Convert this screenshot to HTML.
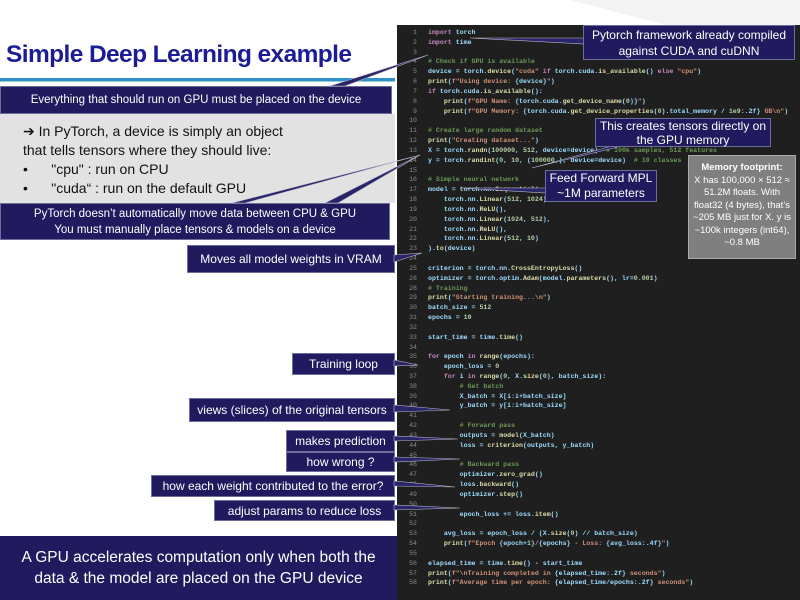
<!DOCTYPE html>
<html><head><meta charset="utf-8"><style>
body{margin:0;width:800px;height:600px;overflow:hidden;background:#fff;font-family:"Liberation Sans",sans-serif;position:relative}
.b{position:absolute;background:#211a5e;color:#fff;font-size:12px;display:flex;align-items:center;justify-content:center;box-sizing:border-box;border:1px solid #6b6f9a;white-space:nowrap}
#code{position:absolute;left:397px;top:25px;width:403px;height:575px;background:#1f1f1f}
pre{margin:0;position:absolute;top:3px;font-family:"Liberation Mono",monospace;font-size:6.6px;line-height:9.83px;color:#9cdcfe;font-weight:bold}
#nums{left:8px;color:#8a8a8a;text-align:right;width:12px;font-weight:normal}
#src{left:31px}
.c{color:#6a9955}.s{color:#ce9178}.k{color:#c586c0}.f{color:#dcdcaa}.n{color:#b5cea8}
</style></head><body>
<svg width="800" height="600" style="position:absolute;left:0;top:0">
<polygon points="570,0 800,0 800,60" fill="#f3f3f3"/>
<rect x="0" y="78" width="395" height="3" fill="#2f8fc8"/>
<rect x="0" y="81" width="395" height="1" fill="#9cc"/>
</svg>
<div style="position:absolute;left:6px;top:41px;font-size:24.5px;font-weight:bold;color:#1c1c96;letter-spacing:-0.6px">Simple Deep Learning example</div>
<div class="b" style="left:0;top:86px;width:392px;height:28px;font-size:11.5px">Everything that should run on GPU must be placed on the device</div>
<div style="position:absolute;left:0;top:114px;width:395px;height:89px;background:#e2e2e2;font-size:14px;color:#111;line-height:19px;padding:8px 0 0 23px;box-sizing:border-box">
<div>➔ In PyTorch, a device is simply an object</div>
<div>that tells tensors where they should live:</div>
<div>•&nbsp;&nbsp;&nbsp;&nbsp;&nbsp;&nbsp;"cpu" : run on CPU</div>
<div>•&nbsp;&nbsp;&nbsp;&nbsp;&nbsp;&nbsp;"cuda“ : run on the default GPU</div>
</div>
<div class="b" style="left:0;top:203px;width:390px;height:37px;font-size:11.5px;line-height:16px;text-align:center">PyTorch doesn’t automatically move data between CPU &amp; GPU<br>You must manually place tensors &amp; models on a device</div>
<div class="b" style="left:187px;top:245px;width:208px;height:28px">Moves all model weights in VRAM</div>
<div class="b" style="left:292px;top:353px;width:103px;height:22px">Training loop</div>
<div class="b" style="left:189px;top:398px;width:206px;height:24px">views (slices) of the original tensors</div>
<div class="b" style="left:286px;top:430px;width:109px;height:22px">makes prediction</div>
<div class="b" style="left:286px;top:452px;width:109px;height:20px">how wrong ?</div>
<div class="b" style="left:151px;top:475px;width:244px;height:22px">how each weight contributed to the error?</div>
<div class="b" style="left:214px;top:500px;width:181px;height:21px">adjust params to reduce loss</div>
<div class="b" style="left:0;top:536px;width:397px;height:64px;font-size:15.5px;line-height:21px;text-align:center;border:none">A GPU accelerates computation only when both the<br>data &amp; the model are placed on the GPU device</div>
<div id="code">
<pre id="nums">1
2
3
4
5
6
7
8
9
10
11
12
13
14
15
16
17
18
19
20
21
22
23
24
25
26
28
29
30
31
32
33
34
35
36
37
38
39
40
41
42
43
44
45
46
47
48
49
50
51
52
53
54
55
56
57
58</pre>
<pre id="src"><span class="k">import</span> torch
<span class="k">import</span> time

<span class="c"># Check if GPU is available</span>
device = torch.<span class="f">device</span>(<span class="s">"cuda"</span> <span class="k">if</span> torch.cuda.<span class="f">is_available</span>() <span class="k">else</span> <span class="s">"cpu"</span>)
<span class="f">print</span>(<span class="s">f"Using device: </span>{device}<span class="s">"</span>)
<span class="k">if</span> torch.cuda.<span class="f">is_available</span>():
    <span class="f">print</span>(<span class="s">f"GPU Name: </span>{torch.cuda.<span class="f">get_device_name</span>(<span class="n">0</span>)}<span class="s">"</span>)
    <span class="f">print</span>(<span class="s">f"GPU Memory: </span>{torch.cuda.<span class="f">get_device_properties</span>(<span class="n">0</span>).total_memory / <span class="n">1e9</span>:.2f}<span class="s"> GB\n"</span>)

<span class="c"># Create large random dataset</span>
<span class="f">print</span>(<span class="s">"Creating dataset..."</span>)
X = torch.<span class="f">randn</span>(<span class="n">100000</span>, <span class="n">512</span>, device=device)  <span class="c"># 100k samples, 512 features</span>
y = torch.<span class="f">randint</span>(<span class="n">0</span>, <span class="n">10</span>, (<span class="n">100000</span>,), device=device)  <span class="c"># 10 classes</span>

<span class="c"># Simple neural network</span>
model = torch.nn.<span class="f">Sequential</span>(
    torch.nn.<span class="f">Linear</span>(<span class="n">512</span>, <span class="n">1024</span>),
    torch.nn.<span class="f">ReLU</span>(),
    torch.nn.<span class="f">Linear</span>(<span class="n">1024</span>, <span class="n">512</span>),
    torch.nn.<span class="f">ReLU</span>(),
    torch.nn.<span class="f">Linear</span>(<span class="n">512</span>, <span class="n">10</span>)
).<span class="f">to</span>(device)

criterion = torch.nn.<span class="f">CrossEntropyLoss</span>()
optimizer = torch.optim.<span class="f">Adam</span>(model.<span class="f">parameters</span>(), lr=<span class="n">0.001</span>)
<span class="c"># Training</span>
<span class="f">print</span>(<span class="s">"Starting training...\n"</span>)
batch_size = <span class="n">512</span>
epochs = <span class="n">10</span>

start_time = time.<span class="f">time</span>()

<span class="k">for</span> epoch <span class="k">in</span> <span class="f">range</span>(epochs):
    epoch_loss = <span class="n">0</span>
    <span class="k">for</span> i <span class="k">in</span> <span class="f">range</span>(<span class="n">0</span>, X.<span class="f">size</span>(<span class="n">0</span>), batch_size):
        <span class="c"># Get batch</span>
        X_batch = X[i:i+batch_size]
        y_batch = y[i:i+batch_size]

        <span class="c"># Forward pass</span>
        outputs = <span class="f">model</span>(X_batch)
        loss = <span class="f">criterion</span>(outputs, y_batch)

        <span class="c"># Backward pass</span>
        optimizer.<span class="f">zero_grad</span>()
        loss.<span class="f">backward</span>()
        optimizer.<span class="f">step</span>()

        epoch_loss += loss.<span class="f">item</span>()

    avg_loss = epoch_loss / (X.<span class="f">size</span>(<span class="n">0</span>) // batch_size)
    <span class="f">print</span>(<span class="s">f"Epoch </span>{epoch+<span class="n">1</span>}<span class="s">/</span>{epochs}<span class="s"> - Loss: </span>{avg_loss:.4f}<span class="s">"</span>)

elapsed_time = time.<span class="f">time</span>() - start_time
<span class="f">print</span>(<span class="s">f"\nTraining completed in </span>{elapsed_time:.2f}<span class="s"> seconds"</span>)
<span class="f">print</span>(<span class="s">f"Average time per epoch: </span>{elapsed_time/epochs:.2f}<span class="s"> seconds"</span>)</pre>
</div>
<svg width="800" height="600" style="position:absolute;left:0;top:0">
<g fill="#2a2468" stroke="#b8b8c8" stroke-width="0.6">
<polygon points="330,86 345,86 428,55"/>
<polygon points="232,203 245,203 420,155"/>
<polygon points="325,203 338,203 420,155"/>
<polygon points="394,255 394,262 422,253"/>
<polygon points="394,360 394,366 418,365"/>
<polygon points="394,405 394,412 450,410"/>
<polygon points="394,436 394,441 458,439"/>
<polygon points="394,457 394,462 460,459"/>
<polygon points="394,481 394,486 455,487"/>
<polygon points="394,505 394,510 460,508"/>
<polygon points="585,38 585,44 470,38"/>
<polygon points="612,146 622,146 532,168"/>
<polygon points="546,188 546,193 460,188"/>
</g>
</svg>
<div class="b" style="left:583px;top:25px;width:212px;height:35px;font-size:12px;line-height:16px;text-align:center">Pytorch framework already compiled<br>against CUDA and cuDNN</div>
<div class="b" style="left:595px;top:118px;width:176px;height:29px;font-size:12px;line-height:14px;text-align:center">This creates tensors directly on<br>the GPU memory</div>
<div class="b" style="left:545px;top:170px;width:112px;height:32px;font-size:12px;line-height:15px;text-align:center">Feed Forward MPL<br>~1M parameters</div>
<div style="position:absolute;left:688px;top:155px;width:108px;height:104px;background:#7f7f7f;border:1px solid #aaa;box-sizing:border-box;color:#fff;font-size:9.5px;line-height:12.5px;text-align:center;padding-top:6px"><b>Memory footprint:</b><br>X has 100,000 × 512 ≈<br>51.2M floats. With<br>float32 (4 bytes), that’s<br>~205 MB just for X. y is<br>~100k integers (int64),<br>~0.8 MB</div>
</body></html>
